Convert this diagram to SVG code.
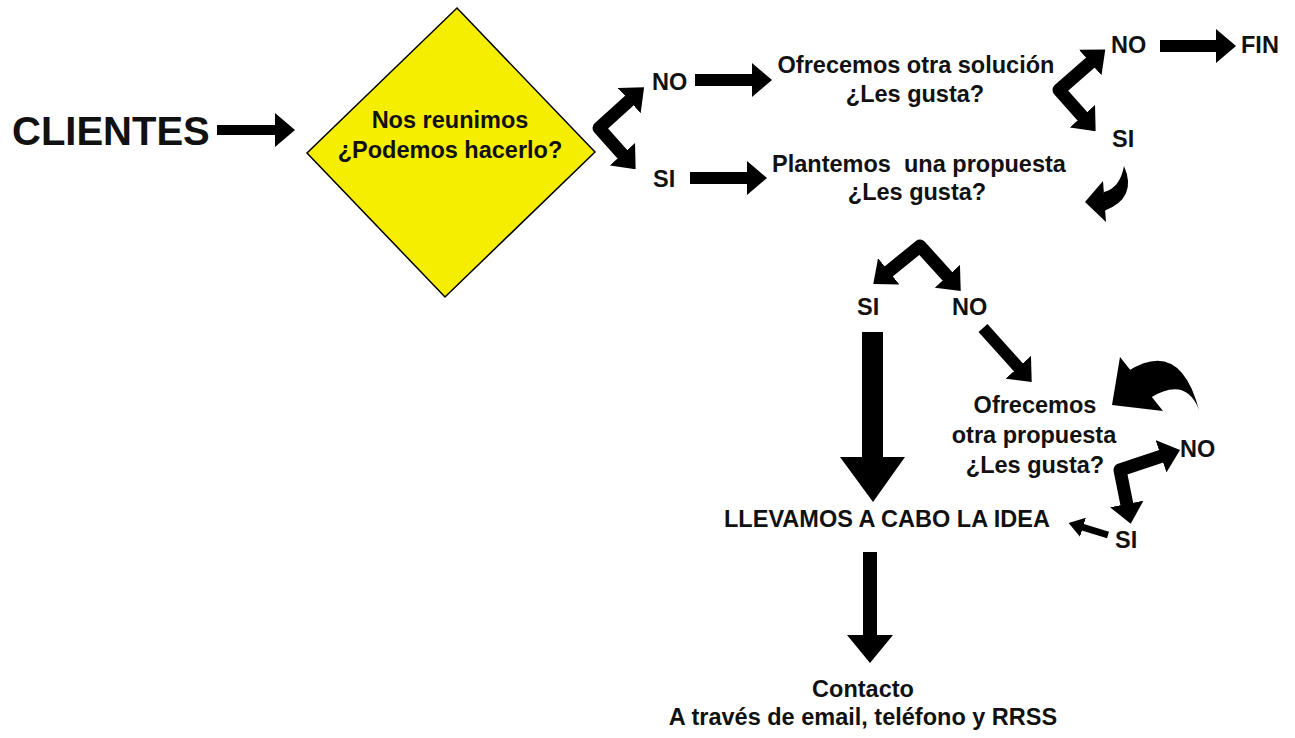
<svg xmlns="http://www.w3.org/2000/svg" width="1295" height="738" viewBox="0 0 1295 738">
<style>
.t{font-family:"Liberation Sans",Arial,Helvetica,sans-serif;font-weight:bold;font-size:23.5px;fill:#111;white-space:pre}
.big{font-size:40px}
.c{stroke:#000;fill:none;stroke-linejoin:round}
.f{fill:#000}
</style>
<defs>
<marker id="ah" markerUnits="userSpaceOnUse" viewBox="0 0 20 34" markerWidth="20" markerHeight="34" refX="1" refY="17" orient="auto-start-reverse"><path d="M0,0 L20,17 L0,34 Z" fill="#000"/></marker>
<marker id="ahS" markerUnits="userSpaceOnUse" viewBox="0 0 15 20" markerWidth="15" markerHeight="20" refX="1" refY="10" orient="auto-start-reverse"><path d="M0,0 L15,10 L0,20 Z" fill="#000"/></marker>
</defs>
<rect width="1295" height="738" fill="#fff"/>

<g id="clientes"><text class="t big" x="12" y="145">CLIENTES</text></g>
<g id="decision">
<polygon points="457,8 595,152 445,297 307,153" fill="#f5ee00" stroke="#000" stroke-width="1.5"/>
<text class="t" x="450" y="128" text-anchor="middle">Nos reunimos</text>
<text class="t" x="450" y="158" text-anchor="middle">¿Podemos hacerlo?</text>
</g>
<g id="no1"><text class="t" x="652" y="90">NO</text></g>
<g id="si1"><text class="t" x="653" y="187">SI</text></g>
<g id="solucion">
<text class="t" x="916" y="73" text-anchor="middle">Ofrecemos otra solución</text>
<text class="t" x="915" y="102" text-anchor="middle">¿Les gusta?</text>
</g>
<g id="propuesta">
<text class="t" x="919" y="172" text-anchor="middle">Plantemos  una propuesta</text>
<text class="t" x="917" y="200" text-anchor="middle">¿Les gusta?</text>
</g>
<g id="no2"><text class="t" x="1111" y="53">NO</text></g>
<g id="fin"><text class="t" x="1241" y="53">FIN</text></g>
<g id="si2"><text class="t" x="1112" y="147">SI</text></g>
<g id="si3"><text class="t" x="857" y="315">SI</text></g>
<g id="no3"><text class="t" x="952" y="315">NO</text></g>
<g id="otra">
<text class="t" x="1035" y="413" text-anchor="middle">Ofrecemos</text>
<text class="t" x="1034" y="443" text-anchor="middle">otra propuesta</text>
<text class="t" x="1035" y="473" text-anchor="middle">¿Les gusta?</text>
</g>
<g id="no4"><text class="t" x="1180" y="457">NO</text></g>
<g id="si4"><text class="t" x="1115" y="548">SI</text></g>
<g id="llevamos"><text class="t" x="887" y="527" text-anchor="middle">LLEVAMOS A CABO LA IDEA</text></g>
<g id="contacto">
<text class="t" x="863" y="697" text-anchor="middle">Contacto</text>
<text class="t" x="863" y="725" text-anchor="middle">A través de email, teléfono y RRSS</text>
</g>

<g id="connectors">
<path class="c" d="M217,130 H276" stroke-width="10" marker-end="url(#ah)"/>
<path class="c" d="M630,100 L599,128 L623,155" stroke-width="13" marker-start="url(#ah)" marker-end="url(#ah)"/>
<path class="c" d="M695,80 H753" stroke-width="12" marker-end="url(#ah)"/>
<path class="c" d="M690,178 H748" stroke-width="12" marker-end="url(#ah)"/>
<path class="c" d="M1091,62 L1059,90 L1083,117" stroke-width="13" marker-start="url(#ah)" marker-end="url(#ah)"/>
<path class="c" d="M1160,46 H1217" stroke-width="12" marker-end="url(#ah)"/>
<path class="f" d="M1124,166 Q1138,198 1104,211 L1104,192 Q1120,188 1124,166 Z"/>
<polygon class="f" points="1085,202 1103,181 1106,222"/>
<path class="c" d="M888,272 L920,246 L948,277" stroke-width="13" marker-start="url(#ah)" marker-end="url(#ah)"/>
<polygon class="f" points="862,332 883,332 883,457 905,457 873,502 840,457 862,457"/>
<path class="c" d="M983,328 L1019,368" stroke-width="12" marker-end="url(#ah)"/>
<path class="f" d="M1128,371 Q1180,338 1199,410 Q1186,376 1150,398 Z"/>
<polygon class="f" points="1120,357 1163,411 1112,405"/>
<path class="c" d="M1162,456 L1120,470 L1127,505" stroke-width="13" marker-start="url(#ah)" marker-end="url(#ah)"/>
<path class="c" d="M1108,535 L1082,527" stroke-width="7" marker-end="url(#ahS)"/>
<polygon class="f" points="863,552 877,552 877,635 893,635 870,663 847,635 863,635"/>
</g>
</svg>
